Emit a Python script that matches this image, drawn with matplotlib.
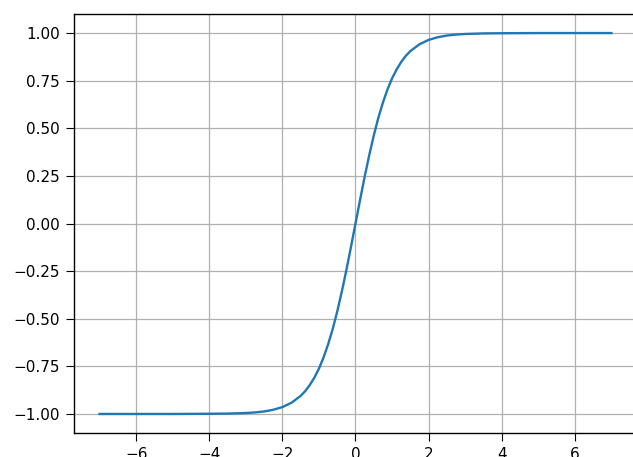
import matplotlib
matplotlib.use("Agg")
import matplotlib.pyplot as plt

# values
x = [-7, -6, -5, -4, -3.5, -3, -2.75, -2.5, -2.25, -2, -1.75, -1.5, -1.375,
     -1.25, -1.125, -1, -0.875, -0.75, -0.625, -0.5, -0.375, -0.25, -0.125,
     0, 0.125, 0.25, 0.375, 0.5, 0.625, 0.75, 0.875, 1, 1.125, 1.25, 1.375,
     1.5, 1.75, 2, 2.25, 2.5, 2.75, 3, 3.5, 4, 5, 6, 7]
y = [-1.0, -1.0, -1.0, -0.999, -0.998, -0.995, -0.992, -0.987, -0.978, -0.964,
     -0.941, -0.905, -0.880, -0.848, -0.809, -0.762, -0.704, -0.635, -0.555,
     -0.462, -0.358, -0.245, -0.124, 0.0, 0.124, 0.245, 0.358, 0.462, 0.555,
     0.635, 0.704, 0.762, 0.809, 0.848, 0.880, 0.905, 0.941, 0.964, 0.978,
     0.987, 0.992, 0.995, 0.998, 0.999, 1.0, 1.0, 1.0]

plt.rcParams.update({"font.size": 11})

fig = plt.figure(figsize=(6.33, 4.57), dpi=100)
ax = fig.add_axes([74/633, 24/457, 563/633, 419/457])
ax.plot(x, y, color="#1f77b4", lw=1.7)
ax.set_xlim(-7.7, 7.7)
ax.set_ylim(-1.1, 1.1)
ax.set_xticks([-6, -4, -2, 0, 2, 4, 6])
ax.set_yticks([-1.0, -0.75, -0.5, -0.25, 0.0, 0.25, 0.5, 0.75, 1.0])
ax.set_yticklabels(["\u22121.00", "\u22120.75", "\u22120.50", "\u22120.25",
                    "0.00", "0.25", "0.50", "0.75", "1.00"])
ax.grid(color="#b0b0b0", lw=0.9)
ax.tick_params(length=5.5, pad=4.5)
for s in ax.spines.values():
    s.set_linewidth(1.0)

fig.savefig("out.png", dpi=100)
